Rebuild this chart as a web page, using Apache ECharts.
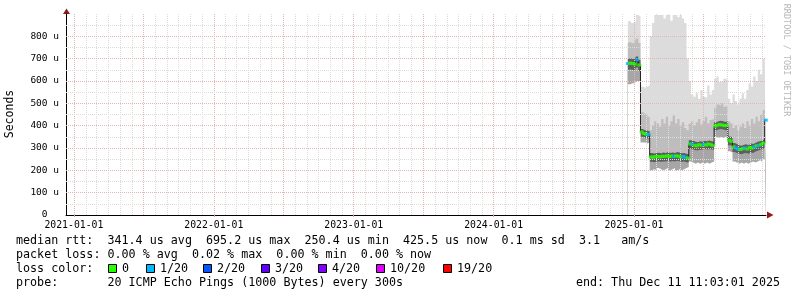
<!DOCTYPE html>
<html><head><meta charset="utf-8">
<script src="https://cdn.jsdelivr.net/npm/echarts@6/dist/echarts.min.js"></script>
<style>html,body{margin:0;padding:0;background:#fff}#c{width:797px;height:297px}</style>
</head><body><div id="c"></div>
<script>
// ---- data ----
const sampleStart = Date.UTC(2024, 11, 16);
const sampleStepDays = 6;
const median = [
  678,680,678,676,695,672,372,365,362,360,
  260,258,262,262,260,263,262,265,262,264,
  262,265,263,260,262,258,255,318,318,312,
  310,315,312,316,313,318,315,312,398,402,
  405,403,400,402,335,330,305,300,295,293,
  297,300,295,302,300,305,310,312,316,322,
  425];
const lossLevel = [
  1,0,0,0,1,0,0,0,0,1,
  0,0,0,0,0,0,0,0,0,0,
  1,0,0,0,1,1,0,0,1,0,
  0,0,0,1,0,0,0,0,0,0,
  0,0,0,0,0,0,0,1,1,0,
  0,1,0,0,0,1,0,1,0,0,
  1];
const smokeMin = [
  585,585,590,590,600,600,325,325,320,325,
  200,205,200,210,205,200,205,210,200,205,
  210,200,205,200,205,210,215,240,235,230,
  235,230,235,230,235,230,235,240,350,345,
  350,345,350,350,285,280,240,235,230,235,
  230,235,230,235,240,235,240,245,240,250,
  380];
const smokeLowDark = [
  650,652,650,648,660,645,350,345,342,342,
  238,236,240,240,238,240,240,243,240,242,
  240,243,241,238,240,236,234,295,293,290,
  290,292,293,295,293,296,293,292,380,383,
  385,383,380,382,312,308,282,278,274,272,
  276,278,274,280,278,284,288,292,295,300,
  402];
const smokeHighDark = [
  700,702,700,698,710,695,385,380,378,375,
  278,275,278,279,276,280,278,282,278,280,
  278,282,280,276,278,274,272,335,333,328,
  326,330,328,332,330,334,330,328,415,420,
  422,420,416,420,352,348,322,318,312,310,
  314,317,312,320,318,322,328,330,334,340,
  445];
const smokeHighMid = [
  770,775,770,768,790,770,460,455,450,440,
  380,400,420,410,395,430,410,440,400,420,
  445,410,430,400,415,390,380,410,420,400,
  415,430,405,420,440,410,425,430,480,495,
  490,500,485,490,420,410,390,400,380,395,
  410,390,420,400,430,410,440,420,450,470,
  560];
const smokeMax = [
  865,870,860,865,895,890,575,570,575,580,
  800,860,895,895,895,895,880,895,895,870,
  895,895,885,895,880,860,700,600,540,530,
  545,520,560,530,525,580,540,560,610,620,
  595,600,610,605,520,500,540,510,495,520,
  545,520,560,590,575,620,600,650,630,700,
  790];
const xStart = Date.UTC(2020, 11, 11, 10, 3, 1);
const xEnd = Date.UTC(2025, 11, 11, 10, 3, 1);
const yearTicks = ['2021-01-01','2022-01-01','2023-01-01','2024-01-01','2025-01-01'];
const yTicks = [0,100,200,300,400,500,600,700,800];
const lossLabels = ['0','1/20','2/20','3/20','4/20','10/20','19/20'];
const lossColors = ['#26ff00','#00b8ff','#0059ff','#5e00ff','#7e00ff','#dd00ff','#ff0000'];
const statLines = [
  'median rtt:  341.4 us avg  695.2 us max  250.4 us min  425.5 us now  0.1 ms sd  3.1   am/s',
  'packet loss: 0.00 % avg  0.02 % max  0.00 % min  0.00 % now',
  'loss color:',
  'probe:       20 ICMP Echo Pings (1000 Bytes) every 300s'
];
const endText = 'end: Thu Dec 11 11:03:01 2025';

// ---- build ----
const DAY = 86400000;
const tAt = i => sampleStart + i * sampleStepDays * DAY;
const pts = arr => arr.map((v, i) => [tAt(i), v]);
const MONO = '"DejaVu Sans Mono", monospace';

const gridLines = [];
const minorC = '#dcdcdc', majorC = '#e2b4b4';
for (let y = 2021; y <= 2025; y++) {
  for (let m = 0; m < 12; m++) {
    const t = Date.UTC(y, m, 1);
    if (t > xEnd) continue;
    const major = (m === 0 || m === 6);
    gridLines.push({xAxis: t, lineStyle: {color: major ? majorC : minorC, type: [1, 1], width: 1}});
  }
}
for (let v = 50; v <= 850; v += 50) {
  const major = v % 100 === 0;
  gridLines.push({yAxis: v, lineStyle: {color: major ? majorC : minorC, type: [1, 1], width: 1}});
}

// smoke layers painted from the tallest down, each filled to the axis
const layer = (name, data, color) => ({
  name, type: 'line', data: pts(data), step: 'middle',
  symbol: 'none', lineStyle: {opacity: 0}, areaStyle: {color, opacity: 1, origin: 'start'},
  z: 1, silent: true
});

const graphics = [];
const lineY = [241, 255, 268.5, 282.5];
statLines.forEach((s, k) => graphics.push({
  type: 'text', x: 16, y: lineY[k],
  style: {text: s, font: '11.7px ' + MONO, fill: '#000', verticalAlign: 'middle'}
}));
graphics.push({type: 'text', x: 780, y: lineY[3],
  style: {text: endText, font: '11.7px ' + MONO, fill: '#000', align: 'right', verticalAlign: 'middle'}});
const boxX = [108, 146, 203, 261, 318, 376, 443];
lossLabels.forEach((lab, k) => {
  graphics.push({type: 'rect', shape: {x: boxX[k] + 0.5, y: 264.5, width: 8, height: 8},
    style: {fill: lossColors[k], stroke: '#000', lineWidth: 1}});
  graphics.push({type: 'text', x: boxX[k] + 14, y: lineY[2],
    style: {text: lab, font: '11.7px ' + MONO, fill: '#000', verticalAlign: 'middle'}});
});
graphics.push({type: 'text', x: 10.5, y: 114, rotation: Math.PI / 2,
  style: {text: 'Seconds', font: '11.5px ' + MONO, fill: '#000', align: 'center', verticalAlign: 'middle'}});
graphics.push({type: 'text', x: 786, y: 60, rotation: -Math.PI / 2,
  style: {text: 'RRDTOOL / TOBI OETIKER', font: '8.5px ' + MONO, fill: '#b8b8b8', align: 'center', verticalAlign: 'middle'}});
graphics.push({type: 'polygon', shape: {points: [[63, 14], [70, 14], [66.5, 8.5]]}, style: {fill: '#8e1b1b'}});
graphics.push({type: 'polygon', shape: {points: [[767, 211.5], [767, 218.5], [773.5, 215]]}, style: {fill: '#8e1b1b'}});

const chart = echarts.init(document.getElementById('c'), null, {renderer: 'canvas'});
chart.setOption({
  animation: false,
  backgroundColor: '#fff',
  grid: {left: 66, top: 14, width: 700, height: 201},
  xAxis: {
    type: 'value', min: xStart, max: xEnd,
    axisLine: {lineStyle: {color: '#000', width: 1}},
    axisTick: {show: true, length: 2, lineStyle: {color: '#d9a0a0'},
      customValues: yearTicks.map(s => Date.parse(s + 'T00:00:00Z'))},
    splitLine: {show: false},
    axisLabel: {
      customValues: yearTicks.map(s => Date.parse(s + 'T00:00:00Z')),
      formatter: v => new Date(v).toISOString().slice(0, 10),
      fontFamily: MONO, fontSize: 9.8, color: '#000', margin: 5
    }
  },
  yAxis: {
    type: 'value', min: 0, max: 900, interval: 100,
    axisLine: {show: true, lineStyle: {color: '#000', width: 1}},
    axisTick: {show: false},
    splitLine: {show: false},
    axisLabel: {
      customValues: yTicks,
      formatter: v => v === 0 ? '0  ' : v + ' u',
      fontFamily: MONO, fontSize: 9.5, color: '#000', margin: 7
    }
  },
  series: [
    layer('smokeMax', smokeMax, '#dcdcdc'),
    layer('smokeHighMid', smokeHighMid, '#bdbdbd'),
    layer('smokeHighDark', smokeHighDark, '#5e5e5e'),
    layer('smokeLowDark', smokeLowDark, '#a6a6a6'),
    layer('smokeMin', smokeMin, '#ffffff'),
    {name: 'grid', type: 'line', data: [], z: 3, silent: true,
     markLine: {silent: true, symbol: ['none', 'none'], label: {show: false}, animation: false, data: gridLines}},
    {name: 'median', type: 'line', data: pts(median), step: 'middle', symbol: 'none',
     lineStyle: {color: '#202020', width: 1}, z: 4, silent: true},
    {name: 'loss', type: 'scatter', data: median.map((v, i) => [tAt(i), v, lossLevel[i]]),
     symbol: 'rect', symbolSize: [4, 3], z: 5, silent: true,
     itemStyle: {color: p => lossColors[p.value[2]]}}
  ],
  graphic: graphics
});
</script></body></html>
